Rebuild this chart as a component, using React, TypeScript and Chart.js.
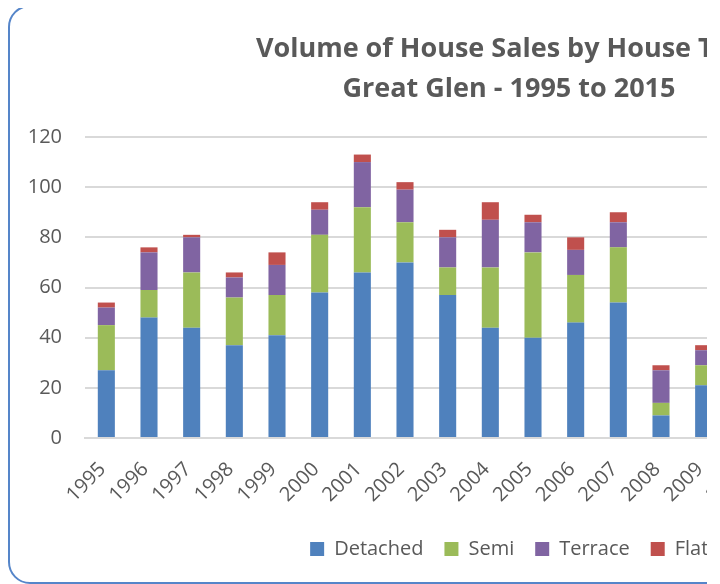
import React, { useEffect, useRef } from "react";
import { Chart, registerables } from "chart.js";

Chart.register(...registerables);

const years = [
  "1995", "1996", "1997", "1998", "1999", "2000", "2001", "2002", "2003", "2004",
  "2005", "2006", "2007", "2008", "2009", "2010", "2011", "2012", "2013", "2014", "2015",
];
const detached = [27, 48, 44, 37, 41, 58, 66, 70, 57, 44, 40, 46, 54, 9, 21, 22, 24, 25, 30, 36, 34];
const semi = [18, 11, 22, 19, 16, 23, 26, 16, 11, 24, 34, 19, 22, 5, 8, 8, 9, 10, 12, 14, 13];
const terrace = [7, 15, 14, 8, 12, 10, 18, 13, 12, 19, 12, 10, 10, 13, 6, 5, 6, 7, 8, 10, 9];
const flats = [2, 2, 1, 2, 5, 3, 3, 3, 3, 7, 3, 5, 4, 2, 2, 2, 1, 2, 2, 3, 2];
const yTicks = [0, 20, 40, 60, 80, 100, 120];
const titleLines = ["Volume of House Sales by House Type", "Great Glen - 1995 to 2015"];

const FONT = "'Open Sans', sans-serif";
const TEXT = "#595959";

// nudges the legend to sit where the original one does
const legendNudge = {
  id: "legendNudge",
  beforeDraw(chart: any) {
    const lg = chart.legend;
    if (lg && !lg._nudged) {
      lg.left += 5;
      lg.right += 5;
      lg._nudged = true;
    }
  },
};

export default function App() {
  const ref = useRef<HTMLCanvasElement | null>(null);

  useEffect(() => {
    if (!ref.current) return;
    const chart = new Chart(ref.current, {
      type: "bar",
      plugins: [legendNudge],
      data: {
        labels: years,
        datasets: [
          { label: "Detached", data: detached, backgroundColor: "#4f81bd" },
          { label: "Semi", data: semi, backgroundColor: "#9bbb59" },
          { label: "Terrace", data: terrace, backgroundColor: "#8064a2" },
          { label: "Flats", data: flats, backgroundColor: "#c0504d" },
        ],
      },
      options: {
        animation: false,
        responsive: false,
        layout: { padding: { left: 0, right: 0, top: 0, bottom: 13 } },
        datasets: { bar: { categoryPercentage: 1, barPercentage: 0.4 } } as any,
        plugins: {
          tooltip: { enabled: false },
          title: {
            display: true,
            text: titleLines,
            color: TEXT,
            font: { family: FONT, size: 27, weight: "bold", lineHeight: 40 / 27 },
            padding: { top: 22, bottom: 28 },
          },
          legend: {
            position: "bottom",
            labels: {
              boxWidth: 14,
              boxHeight: 14,
              padding: 21,
              color: TEXT,
              font: { family: FONT, size: 20 },
            },
          },
        },
        scales: {
          x: {
            stacked: true,
            grid: { display: false, drawTicks: false },
            border: { display: true, color: "#d9d9d9", width: 2 },
            ticks: {
              color: TEXT,
              font: { family: FONT, size: 20 },
              minRotation: 45,
              maxRotation: 45,
              autoSkip: false,
              padding: 16,
              callback: (_v: any, i: number) => years[i] + " ",
            },
            afterFit: (s: any) => {
              s.height = 80;
            },
          },
          y: {
            stacked: true,
            min: 0,
            max: 120,
            afterBuildTicks: (s: any) => {
              s.ticks = yTicks.map((v) => ({ value: v }));
            },
            grid: { color: "#d9d9d9", lineWidth: 2, drawTicks: false },
            border: { display: false },
            ticks: {
              color: TEXT,
              font: { family: FONT, size: 20 },
              padding: 23,
            },
            afterFit: (s: any) => {
              s.width = 75;
            },
          },
          yRight: {
            position: "right",
            display: true,
            grid: { display: false, drawTicks: false },
            border: { display: false },
            ticks: { display: false },
            afterFit: (s: any) => {
              s.width = 27;
            },
          },
        },
      },
    });
    return () => chart.destroy();
  }, []);

  return (
    <div
      style={{
        position: "relative",
        width: 699,
        height: 579,
        marginTop: -3,
        overflow: "hidden",
      }}
    >
      <div
        style={{
          position: "absolute",
          left: 0,
          top: 0,
          width: 1002,
          height: 579,
          boxSizing: "border-box",
          border: "2px solid #5585c9",
          borderRadius: 22,
          background: "#ffffff",
        }}
      >
        <canvas
          ref={ref}
          width={998}
          height={575}
          style={{ position: "absolute", left: 0, top: 0, width: 998, height: 575 }}
        />
      </div>
    </div>
  );
}
